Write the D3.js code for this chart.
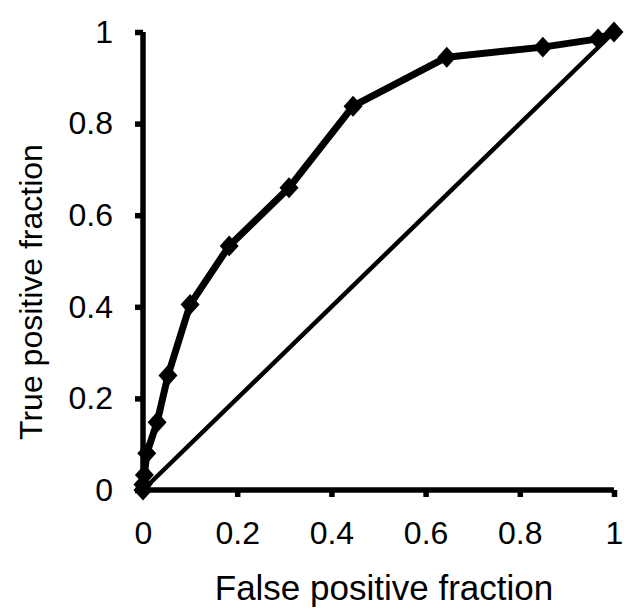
<!DOCTYPE html>
<html>
<head>
<meta charset="utf-8">
<script src="https://cdn.jsdelivr.net/npm/d3@7"></script>
<style>
  body { margin: 0; background: #fff; }
  text { font-family: "Liberation Sans", Arial, sans-serif; fill: #000; }
</style>
</head>
<body>
<div id="chart"></div>
<script>
// ROC points
var fpf = [0, 0, 0.003, 0.008, 0.03, 0.053, 0.10, 0.183, 0.31, 0.446, 0.645, 0.849, 0.966, 1];
var tpf = [0, 0.012, 0.033, 0.08, 0.148, 0.25, 0.405, 0.533, 0.66, 0.838, 0.945, 0.967, 0.985, 1];
var tickValues = [0, 0.2, 0.4, 0.6, 0.8, 1];

var width = 624;
var height = 608;
var margin = {left: 143, right: 10, top: 32, bottom: 118};

var svg = d3.select('#chart')
  .append('svg')
  .attr('width', width)
  .attr('height', height);

var x_scale = d3.scaleLinear()
  .domain([0, 1])
  .range([margin.left, width - margin.right]);
var y_scale = d3.scaleLinear()
  .domain([0, 1])
  .range([height - margin.bottom, margin.top]);

var fmt = function(d) { return d === 0 || d === 1 ? String(d) : d.toFixed(1); };

// x axis
var x_axis = d3.axisBottom(x_scale).tickValues(tickValues).tickSize(7).tickPadding(24).tickFormat(fmt);
var gx = svg.append('g')
  .attr('transform', 'translate(0,' + y_scale(0) + ')')
  .call(x_axis);

// y axis
var y_axis = d3.axisLeft(y_scale).tickValues(tickValues).tickSize(8).tickPadding(22).tickFormat(fmt);
var gy = svg.append('g')
  .attr('transform', 'translate(' + x_scale(0) + ',0)')
  .call(y_axis);

[gx, gy].forEach(function(g) {
  g.attr('font-size', null).attr('font-family', null);
  g.select('.domain').attr('stroke', '#000').attr('stroke-width', 5.5);
  g.selectAll('.tick line').attr('stroke', '#000').attr('stroke-width', 5.5);
  g.selectAll('.tick text').style('font-size', '32px');
});
gx.select('.domain').attr('d', 'M' + x_scale(0) + ',0H' + x_scale(1));
gy.select('.domain').attr('d', 'M0,' + y_scale(0) + 'V' + y_scale(1));

// diagonal reference line
svg.append('line')
  .attr('x1', x_scale(0)).attr('y1', y_scale(0))
  .attr('x2', x_scale(1)).attr('y2', y_scale(1))
  .attr('stroke', '#000')
  .attr('stroke-width', 4.5);

// ROC curve
var pts = fpf.map(function(d, i) { return [d, tpf[i]]; });
var line = d3.line()
  .x(function(d) { return x_scale(d[0]); })
  .y(function(d) { return y_scale(d[1]); });

svg.append('path')
  .datum(pts)
  .attr('d', line)
  .attr('fill', 'none')
  .attr('stroke', '#000')
  .attr('stroke-width', 7)
  .attr('stroke-linejoin', 'round');

svg.selectAll('path.marker')
  .data(pts)
  .enter()
  .append('path')
  .attr('class', 'marker')
  .attr('d', d3.symbol().type(d3.symbolDiamond2).size(230))
  .attr('transform', function(d) { return 'translate(' + x_scale(d[0]) + ',' + y_scale(d[1]) + ') scale(1,1.1)'; })
  .attr('fill', '#000');

// axis titles
svg.append('text')
  .attr('x', 384)
  .attr('y', 600)
  .attr('text-anchor', 'middle')
  .style('font-size', '35px')
  .text('False positive fraction');

svg.append('text')
  .attr('transform', 'translate(42,' + 292 + ') rotate(-90)')
  .attr('text-anchor', 'middle')
  .style('font-size', '32px')
  .text('True positive fraction');
</script>
</body>
</html>
